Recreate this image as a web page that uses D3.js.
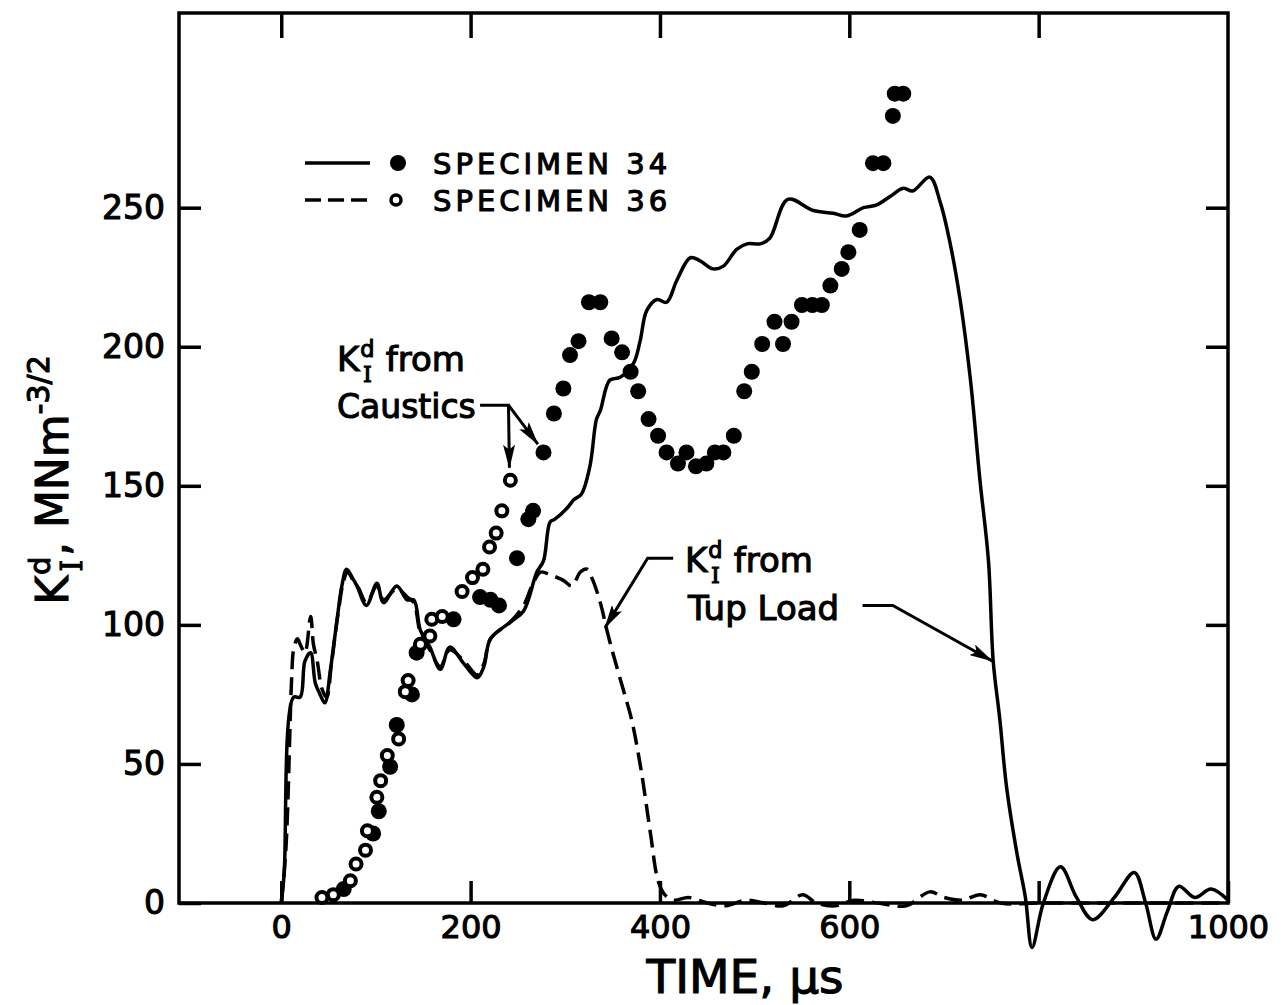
<!DOCTYPE html>
<html>
    <head>
        <title>K_I^d vs time</title>
        <meta charset="UTF-8">
        <script src="https://cdn.jsdelivr.net/npm/d3@7"></script>
        <style>
body { margin: 0; background: #fff; }
text { font-family: "DejaVu Sans", sans-serif; fill: #000; stroke: #000; stroke-width: 1.1px; }
        </style>
    </head>
    <body>
        <script>
// tick labels
var xTickLabels = [0, 200, 400, 600, 1000];
var xTicks = [0, 200, 400, 600, 800, 1000];
var yTicks = [0, 50, 100, 150, 200, 250];

// tup load traces [time us, K MNm^-3/2]
var tup34 = [[0,0],[3,10],[13,74],[20,74],[25,87],[31,90],[36,79],[41,75],[46,72],[52,84],[59,102],[64,114],[69,120],
    [75,117],[80,114],[90,107],[101,115],[108,108],[122,114],[133,109],[140,109],[147,98],[157,92],[168,84],[178,92],
    [193,86],[207,81],[214,85],[221,95],[242,101],[256,105],[270,119],[277,123],[284,137],[289,138],[302,142],[309,145],
    [317,147],[326,157],[333,174],[337,177],[347,188],[358,189],[372,194],[379,202],[386,213],[397,217],[407,216],
    [418,224],[432,232],[442,231],[456,228],[467,229],[481,235],[492,237],[506,237],[516,239],[535,253],[562,249],
    [583,248],[597,247],[615,250],[629,251],[643,254],[657,257],[667,256],[685,261],[696,252],[706,238],[717,217],
    [728,188],[738,152],[747,123],[752,87],[759,66],[766,42],[777,18],[786,2],[793,-16],[805,0],[823,13],[840,2],
    [857,-6],[880,2],[901,11],[913,0],[924,-13],[936,-3],[948,6],[965,2],[982,5],[1000,1]];

var tup36 = [[0,0],[5,20],[11,81],[13,91],[17,95],[20,93],[25,90],[31,103],[34,93],[38,87],[43,77],[48,74],[53,86],
    [60,104],[66,116],[70,119],[76,116],[82,113],[90,108],[101,114],[108,109],[122,113],[133,110],[140,108],[147,97],
    [157,91],[168,85],[178,91],[193,87],[207,82],[214,86],[221,95],[242,101],[256,107],[266,115],[274,119],[284,118],
    [298,116],[307,114],[316,119],[323,120],[328,117],[337,108],[344,98],[351,89],[361,77],[370,66],[380,48],[390,25],
    [398,8],[405,3],[415,1],[430,2],[450,0],[470,-1],[490,1],[510,0],[530,-1],[551,3],[565,0],[585,-1],[605,1],
    [630,0],[660,-1],[685,4],[700,2],[720,1],[738,3],[760,0],[800,0],[850,0],[900,0],[1000,0]];

// caustics points
var caustics34 = [[66,5],[97,25],[103,33],[115,49],[122,64],[138,75],[143,90],[182,102],[210,110],[221,109],[230,107],
    [249,124],[261,138],[266,141],[277,162],[288,176],[298,185],[305,197],[314,202],[325,216],[337,216],[349,203],
    [360,198],[369,191],[377,184],[388,174],[398,168],[407,162],[419,158],[428,162],[438,157],[449,158],[458,162],
    [467,162],[478,168],[489,184],[497,191],[508,201],[521,209],[530,201],[539,209],[550,215],[561,215],[571,215],
    [580,222],[592,228],[599,234],[611,242],[625,266],[636,266],[646,283],[648,291],[657,291]];

var caustics36 = [[43,2],[55,3],[73,8],[79,14],[89,19],[91,26],[101,38],[105,44],[112,53],[124,59],[131,76],[134,80],
    [147,93],[157,96],[159,102],[170,103],[191,112],[202,117],[213,120],[220,128],[227,133],[233,141],[242,152]];

var svg, x, y;

function create_svg(){
    svg = d3.select("body")
                .append("svg")
                .attr("width", 1281)
                .attr("height", 1005);
    svg.append("defs").append("marker")
        .attr("id", "head")
        .attr("markerUnits", "userSpaceOnUse")
        .attr("viewBox", "0 0 24 12")
        .attr("markerWidth", 24)
        .attr("markerHeight", 12)
        .attr("refX", 23)
        .attr("refY", 6)
        .attr("orient", "auto")
        .append("path")
        .attr("d", "M0,0 L24,6 L0,12 L5,6 Z")
        .attr("fill", "#000");
    return svg;
}

function draw_axes(){
    x = d3.scaleLinear().domain([-108, 1000]).range([179, 1228]);
    y = d3.scaleLinear().domain([0, 320]).range([903, 13]);

    var bottom = d3.axisBottom(x).tickValues(xTicks).tickSize(-22).tickSizeOuter(0).tickPadding(12)
        .tickFormat(function(d){ return xTickLabels.indexOf(d) >= 0 ? d : ""; });
    var top = d3.axisTop(x).tickValues([0, 200, 400, 600, 800]).tickSize(-25).tickSizeOuter(0).tickFormat("");
    var left = d3.axisLeft(y).tickValues(yTicks).tickSize(-22).tickSizeOuter(0).tickPadding(14);
    var right = d3.axisRight(y).tickValues([50, 100, 150, 200, 250]).tickSize(-22).tickSizeOuter(0).tickFormat("");

    var g;
    g = svg.append("g").attr("transform", "translate(0," + y(0) + ")").call(bottom);
    style_axis(g, 32);
    g = svg.append("g").attr("transform", "translate(0," + y.range()[1] + ")").call(top);
    style_axis(g, 32);
    g = svg.append("g").attr("transform", "translate(" + x.range()[0] + ",0)").call(left);
    style_axis(g, 33);
    g = svg.append("g").attr("transform", "translate(" + x.range()[1] + ",0)").call(right);
    style_axis(g, 33);

    svg.append("rect")
        .attr("x", x.range()[0]).attr("y", y.range()[1])
        .attr("width", x.range()[1] - x.range()[0])
        .attr("height", y(0) - y.range()[1])
        .attr("fill", "none")
        .attr("stroke", "#000")
        .attr("stroke-width", 3.5);
}

function style_axis(g, size){
    g.select(".domain").remove();
    g.selectAll(".tick line").attr("stroke", "#000").attr("stroke-width", 3.5);
    g.selectAll(".tick text").attr("font-size", size).attr("font-family", "DejaVu Sans").attr("fill", "#000");
}

function draw_lines(){
    var line = d3.line()
        .x(function(d){ return x(d[0]); })
        .y(function(d){ return y(d[1]); })
        .curve(d3.curveCatmullRom.alpha(0.5));
    svg.append("path").datum(tup34)
        .attr("d", line).attr("fill", "none")
        .attr("stroke", "#000").attr("stroke-width", 3.5).attr("stroke-linejoin", "round");
    svg.append("path").datum(tup36)
        .attr("d", line).attr("fill", "none")
        .attr("stroke", "#000").attr("stroke-width", 3.5)
        .attr("stroke-dasharray", "18,8");
}

function draw_points(){
    svg.selectAll("circle.s34")
       .data(caustics34)
       .enter()
       .append("circle")
       .attr("class", "s34")
       .attr("cx", function(d){ return x(d[0]); })
       .attr("cy", function(d){ return y(d[1]); })
       .attr("r", 8)
       .attr("fill", "#000");
    svg.selectAll("circle.s36")
       .data(caustics36)
       .enter()
       .append("circle")
       .attr("class", "s36")
       .attr("cx", function(d){ return x(d[0]); })
       .attr("cy", function(d){ return y(d[1]); })
       .attr("r", 5.5)
       .attr("fill", "#fff")
       .attr("stroke", "#000")
       .attr("stroke-width", 4);
}

// K_I^d with stacked super/subscript; leaves the pen on the baseline
function k_label(t, size){
    var s = size * 0.66;
    t.append("tspan").text("K");
    t.append("tspan").text("d").attr("font-size", s).attr("dx", 1).attr("dy", -size * 0.42);
    t.append("tspan").text("I").attr("font-size", s).attr("font-family", "DejaVu Serif")
        .attr("dx", -s * 0.52).attr("dy", size * 0.74);
    return t;
}

function draw_labels(){
    // axis titles
    svg.append("text")
        .attr("x", 745).attr("y", 993)
        .attr("text-anchor", "middle")
        .attr("font-size", 47)
        .text("TIME, \u03bcs");

    var yl = svg.append("text")
        .attr("transform", "translate(68,480) rotate(-90)")
        .attr("text-anchor", "middle")
        .attr("font-size", 44);
    k_label(yl, 44);
    yl.append("tspan").text(", MNm").attr("dx", 4).attr("dy", -44 * 0.32);
    yl.append("tspan").text("-3/2").attr("font-size", 30).attr("dy", -19);

    // legend
    svg.append("line").attr("x1", 305).attr("x2", 370).attr("y1", 163).attr("y2", 163)
        .attr("stroke", "#000").attr("stroke-width", 3.5);
    svg.append("circle").attr("cx", 398).attr("cy", 163).attr("r", 8).attr("fill", "#000");
    svg.append("line").attr("x1", 305).attr("x2", 370).attr("y1", 200).attr("y2", 200)
        .attr("stroke", "#000").attr("stroke-width", 3.5).attr("stroke-dasharray", "16,7");
    svg.append("circle").attr("cx", 396).attr("cy", 200).attr("r", 5).attr("fill", "#fff")
        .attr("stroke", "#000").attr("stroke-width", 3.5);
    svg.append("text").attr("x", 433).attr("y", 174).attr("font-size", 29)
        .attr("letter-spacing", 4).text("SPECIMEN 34");
    svg.append("text").attr("x", 433).attr("y", 211).attr("font-size", 29)
        .attr("letter-spacing", 4).text("SPECIMEN 36");

    // annotations
    var a1 = svg.append("text").attr("x", 337).attr("y", 371).attr("font-size", 34);
    k_label(a1, 34);
    a1.append("tspan").text("from").attr("dx", 14).attr("dy", -34 * 0.32);
    svg.append("text").attr("x", 337).attr("y", 418).attr("font-size", 33).text("Caustics");

    var a2 = svg.append("text").attr("x", 685).attr("y", 572).attr("font-size", 34);
    k_label(a2, 34);
    a2.append("tspan").text("from").attr("dx", 14).attr("dy", -34 * 0.32);
    svg.append("text").attr("x", 688).attr("y", 620).attr("font-size", 34).text("Tup Load");
}

function arrow(pts){
    var line = d3.line()
        .x(function(d){ return x(d[0]); })
        .y(function(d){ return y(d[1]); });
    svg.append("path").datum(pts)
        .attr("d", line)
        .attr("fill", "none")
        .attr("stroke", "#000")
        .attr("stroke-width", 3)
        .attr("marker-end", "url(#head)");
}

function draw_arrows(){
    // caustics leaders (data coords)
    arrow([[210,179],[240,179],[241,156.5]]);
    arrow([[240,179],[271,165]]);
    // tup load leaders
    arrow([[414,124],[387,124],[342,99]]);
    arrow([[614,107],[646,107],[751,87]]);
}

window.onload = function(){
    create_svg();
    draw_axes();
    draw_lines();
    draw_points();
    draw_labels();
    draw_arrows();
}
        </script>
    </body>
</html>
